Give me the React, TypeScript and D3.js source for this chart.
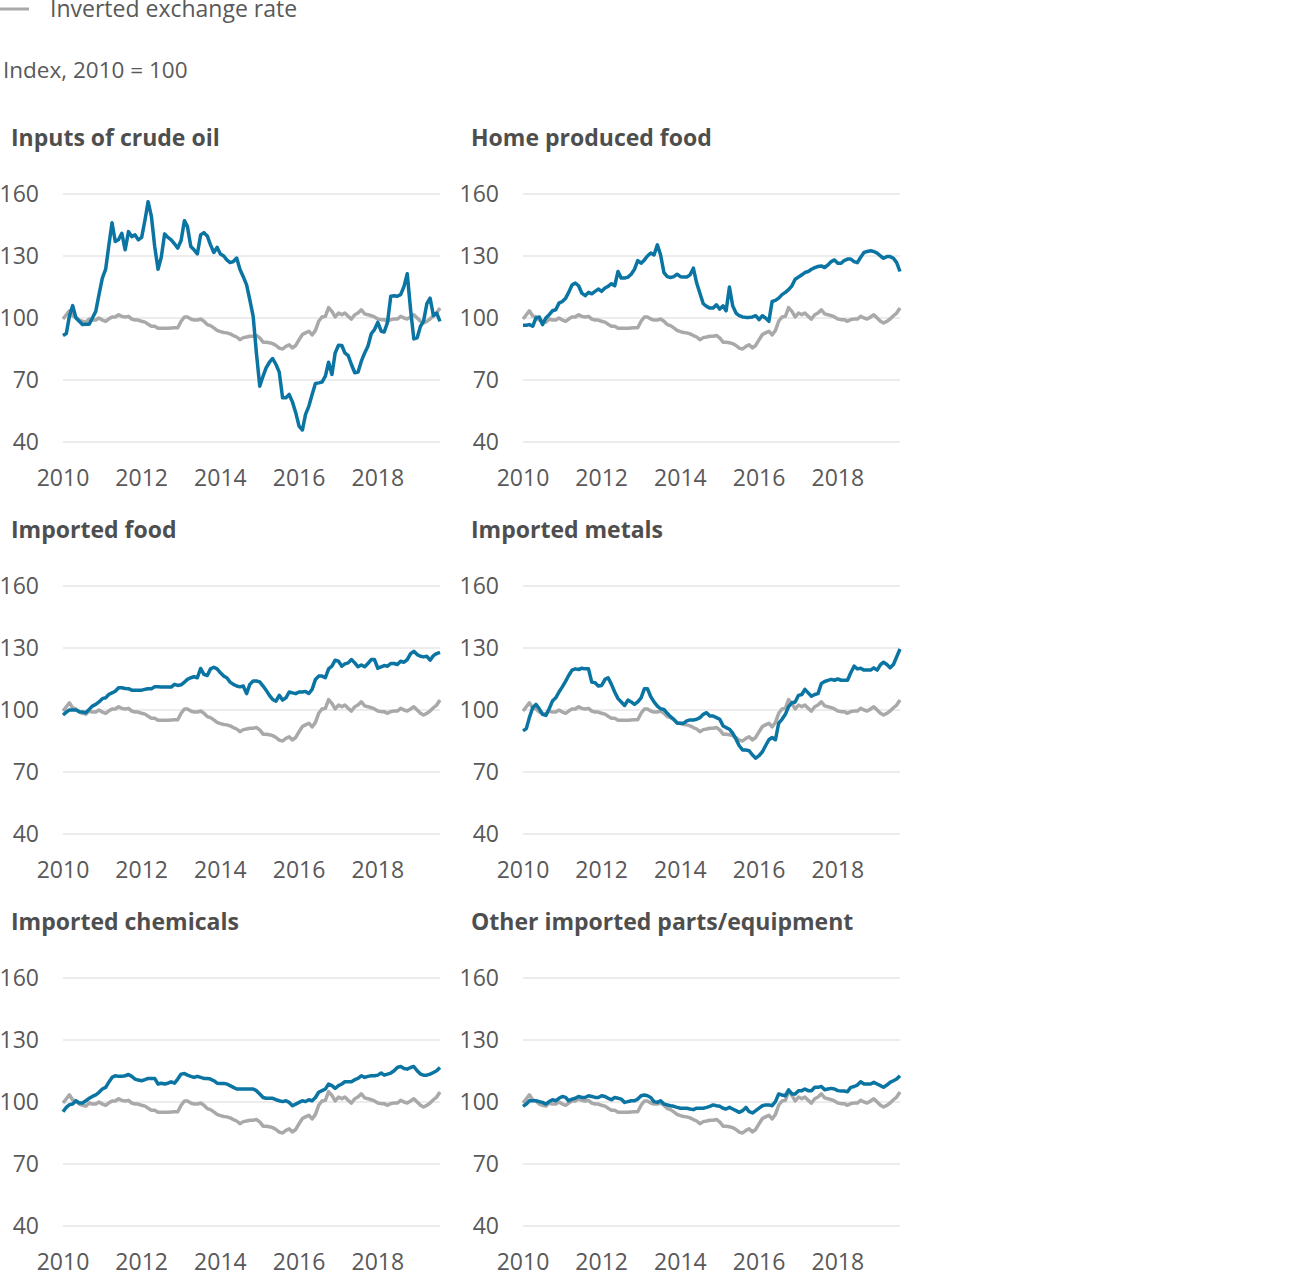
import React from "react";
import * as d3 from "d3";

// Monthly, Jan 2010 – Aug 2019
const startYear = 2010;
const yearTicks = [2010, 2012, 2014, 2016, 2018];
const yTicks = [40, 70, 100, 130, 160];

const exchangeRate = [
  99.5, 101.6, 103.5, 101, 100.5, 99, 98.4, 98, 99.5, 99, 99, 100,
  99, 98.4, 99.5, 100.5, 100.5, 101.6, 100.8, 100.5, 100.8, 99.5, 99, 99,
  98.4, 98, 97, 96, 96, 95, 95, 95, 95, 95.2, 95.3, 95.3,
  98.4, 100.5, 100.5, 99.5, 99, 99, 99.5, 98.4, 96.8, 96.3, 95.2, 94,
  93.4, 93, 92.8, 92.3, 91.5, 90.8, 89.5, 90.5, 90.8, 91.2, 91.2, 91.5,
  90.4, 88.3, 88.3, 88, 87.6, 86.7, 85.4, 85, 86.3, 87, 85.5, 86.7,
  89.5, 92, 92.8, 93.6, 91.8, 94, 98.4, 100.5, 100.8, 105, 103.2, 100.5,
  102.4, 101.6, 102.4, 100.8, 99.5, 101.6, 102.4, 104, 102, 101.6, 101.1, 100.5,
  99.5, 99.2, 99.2, 98.4, 99.2, 99.5, 99.5, 100.8, 100, 99.5, 100.5, 101.6,
  100, 98.4, 97.6, 98.4, 99.5, 101.1, 102.4, 104.8,
];

const crudeOil = [
  91.5, 92.5, 100.8, 106, 100, 98.4, 96.8, 97, 97, 100, 103.2, 111.3,
  119.3, 123.6, 134.6, 146.1, 137, 138, 141, 133, 141.8, 139.4, 140.2, 137.8,
  139, 147.4, 156.3, 149, 134.6, 123.6, 129.4, 140.7, 139, 137.8, 135.9, 133.8,
  137.5, 147.1, 144.2, 134.6, 133, 131, 140.2, 141.3, 139.7, 135.4, 131.7, 134.2,
  131, 130, 128.1, 126.8, 127.3, 129, 123.6, 120, 116, 108.8, 100.8, 83.1,
  67, 71.9, 75.9, 78.6, 80.4, 77.5, 73.8, 61.4, 61.4, 63, 59.3, 54.2,
  47.7, 45.8, 53.4, 57.4, 63, 68.3, 68.6, 69, 71.9, 78.6, 72.7, 83.1,
  86.8, 86.7, 83.1, 81.8, 77.5, 73.5, 73.8, 79.1, 83.1, 86.3, 92.4, 94.4,
  97.9, 93.6, 93.2, 97.9, 110.5, 110.8, 110.5, 111.3, 115.3, 121.4, 104, 89.9,
  90.4, 96, 98.4, 106.9, 109.6, 101.1, 102.4, 98.4,
];

const homeFood = [
  96.5, 96.5, 96.8, 96, 100, 100.5, 96.8, 100, 101.6, 103.5, 104, 107.2,
  108, 109.6, 112.4, 116, 116.9, 115.6, 112, 110.8, 112.4, 111.7, 112.9, 114,
  112.9, 114.5, 115.3, 116.6, 115.6, 122.5, 119.3, 119.3, 119.8, 121.2, 123.6, 127.8,
  126.5, 128.1, 130, 131.4, 130.5, 135.4, 130.5, 122, 120, 119.6, 120, 121.2,
  120, 119.8, 119.8, 120.9, 124.1, 116.9, 112, 106.9, 105.6, 104.8, 104.8, 106.4,
  104.3, 105.9, 103.5, 115, 105.9, 102.4, 101.1, 100.5, 100.3, 100.3, 100.5, 101.1,
  99.2, 101.1, 100, 98.4, 108, 108.5, 109.6, 111.3, 112.4, 113.7, 115.6, 118.8,
  119.8, 120.9, 122, 122.5, 123.6, 124.4, 124.9, 125.2, 124.4, 125.7, 127.3, 128.1,
  126.5, 126.5, 127.8, 128.5, 128.5, 127.3, 126.8, 129.4, 131.7, 132.2, 132.5, 132.2,
  131.4, 130, 128.9, 129.7, 129.7, 128.9, 126.8, 122.5,
];

const importedFood = [
  97.6, 99, 100, 100, 100, 99.2, 99, 98.7, 100.3, 101.9, 102.7, 103.9,
  105.5, 105.9, 107.5, 108.3, 109.1, 110.8, 110.8, 110.4, 110.3, 109.6, 109.6, 109.6,
  109.6, 110, 110.3, 110.3, 111.2, 111.2, 111.1, 111.1, 111.1, 111.1, 112.4, 111.9,
  112.2, 113.5, 114.8, 115.6, 116.1, 115.6, 120.1, 117.2, 116.7, 119.9, 120.7, 119.9,
  118, 116.4, 115.6, 113.5, 112.4, 111.6, 111.2, 111.6, 107.9, 112.4, 114, 114,
  113.6, 111.6, 109.6, 107.1, 105.1, 104.3, 107.1, 104.8, 105.9, 108.7, 108.3, 107.9,
  108.7, 108.7, 109, 108, 110, 114.8, 116.4, 116.4, 115.6, 119.9, 121.2, 124.1,
  123.6, 121.2, 122.3, 122.8, 124.4, 122.8, 120.9, 121.8, 120.9, 122.5, 124.4, 124.4,
  120.2, 120.9, 121.5, 121.2, 122.5, 122.5, 122, 123.6, 123.1, 124.4, 127.3, 128.4,
  126.8, 126, 125.7, 126, 124.1, 126.3, 127.3, 127.9,
];

const importedMetals = [
  89.9, 91, 96.3, 101.1, 102.7, 100.6, 97.9, 97.4, 100.6, 104.3, 105.9, 108.7,
  111.2, 114, 116.7, 119.3, 119.9, 119.6, 120.2, 119.9, 119.9, 113.5, 113.2, 111.6,
  111.9, 114.8, 115.6, 112.4, 108.7, 105.5, 103.9, 102.2, 104.8, 103.9, 102.7, 103.9,
  105.9, 110.3, 110.3, 106.4, 103.9, 101.9, 100.6, 100.3, 98.4, 96.8, 95.5, 93.6,
  93.6, 93.6, 94.7, 95.2, 95.2, 95.5, 96.3, 97.9, 98.7, 97.1, 97.1, 96.3,
  95.5, 92.3, 91.5, 90.7, 88.8, 85.9, 82.7, 80.7, 80.6, 80.3, 78.2, 76.7,
  77.9, 79.8, 82.7, 85.6, 86.7, 85.6, 93.6, 95.5, 97.9, 101.6, 103.5, 103.9,
  107.1, 107.5, 110, 108.3, 106.7, 107.5, 107.9, 112.8, 113.8, 114.3, 114.8, 114.4,
  115, 114.4, 114.4, 114.4, 118, 121.2, 119.9, 120.2, 119.3, 119.3, 119.3, 120.4,
  119.3, 122, 123.1, 122, 120.4, 122, 125.7, 129.5,
];

const importedChemicals = [
  95.3, 97.4, 98.7, 99, 100.6, 99.5, 99.5, 100.6, 101.8, 102.7, 103.4, 104.7,
  106.3, 107.1, 109.5, 111.9, 112.7, 112.4, 112.4, 112.7, 113.3, 112.4, 111.1, 110.6,
  110.3, 110.8, 111.4, 111.4, 111.4, 108.7, 109.1, 108.7, 109.1, 109.8, 109.1, 111.1,
  113.5, 113.8, 113, 112.4, 111.9, 112.4, 111.9, 111.4, 111.4, 111.1, 110.3, 109.1,
  109, 109, 108.7, 107.9, 107.1, 106.3, 106.3, 106.3, 106.3, 106.3, 106.3, 105.5,
  103.9, 102.2, 101.8, 101.8, 101.8, 101.1, 100.6, 100.2, 100.6, 99.8, 98.2, 99,
  99.8, 100.6, 100.2, 101.1, 100.6, 102.2, 104.7, 105.5, 106.3, 108.7, 107.9, 106.6,
  107.9, 108.7, 109.8, 109.8, 109.8, 110.8, 111.4, 112.7, 111.9, 112.4, 112.7, 112.7,
  113, 114, 113, 113.5, 114, 115.1, 116.7, 117.2, 116.2, 115.9, 116.7, 117.2,
  115.1, 113.5, 113, 113, 113.5, 114.3, 115.1, 116.7,
];

const otherParts = [
  97.9, 99, 100.6, 100.6, 100.6, 100.2, 99.8, 99, 100.2, 101.1, 100.6, 101.8,
  102.7, 102.2, 100.6, 101.4, 101.8, 102.7, 102.2, 102.2, 103, 102.7, 102.2, 102.2,
  103, 102.7, 101.8, 101.1, 102.2, 101.8, 101.4, 99.8, 100.2, 100.6, 100.6, 101.4,
  103, 103.4, 103, 102.2, 100.2, 99.8, 100.6, 99, 98.6, 98.2, 97.9, 97.4,
  97, 97, 97, 96.6, 96.3, 97, 97, 97, 97.4, 97.9, 98.6, 98.2,
  97.9, 97, 96.6, 97.4, 96.6, 95.8, 95, 95.8, 97.4, 95.3, 94.7, 95.8,
  97, 98.2, 98.6, 98.6, 98.2, 100.2, 103.9, 103.4, 103, 105.9, 103.9, 103.9,
  105.5, 105.5, 106.3, 105.5, 105.5, 107.1, 107.1, 107.5, 105.9, 106.3, 106.6, 106.3,
  105.5, 105.3, 105.3, 105, 107.1, 107.5, 108.2, 109.8, 108.7, 108.7, 108.7, 109.5,
  108.7, 107.9, 107.1, 108.2, 109.5, 110.3, 111.1, 112.7,
];

const panelTitles = [
  "Inputs of crude oil",
  "Home produced food",
  "Imported food",
  "Imported metals",
  "Imported chemicals",
  "Other imported parts/equipment",
];
const panelSeries = [crudeOil, homeFood, importedFood, importedMetals, importedChemicals, otherParts];

const legendLabel = "Inverted exchange rate";
const subtitle = "Index, 2010 = 100";

const BLUE = "#0a74a2";
const GREY = "#a9a9a9";
const FONT = "'Open Sans', 'Noto Sans', sans-serif";

const colX = [63, 523];
const rowTop = [194, 586, 978];
const plotW = 377;
const plotH = 248;

function dateOf(i: number) {
  return new Date(startYear, i, 1);
}

function Panel({ title, values, x0, y0 }: { title: string; values: number[]; x0: number; y0: number }) {
  const n = values.length;
  const x = d3
    .scaleTime()
    .domain([new Date(startYear, 0, 1), dateOf(n - 1)])
    .range([x0, x0 + plotW]);
  const y = d3.scaleLinear().domain([40, 160]).range([y0 + plotH, y0]);
  const line = d3
    .line<number>()
    .x((_, i) => x(dateOf(i)))
    .y((d) => y(d))
    .curve(d3.curveLinear);
  return (
    <g>
      <text x={x0 - 52} y={y0 - 48} fontFamily={FONT} fontWeight={700} fontSize={23} fill="#4e4e4e">
        {title}
      </text>
      {yTicks.map((t) => (
        <g key={t}>
          <line x1={x0} x2={x0 + plotW} y1={y(t)} y2={y(t)} stroke="#d9d9d9" strokeWidth={1} />
          <text x={x0 - 24} y={y(t)} dy="0.35em" textAnchor="end" fontFamily={FONT} fontSize={23} fill="#595959">
            {t}
          </text>
        </g>
      ))}
      {yearTicks.map((yr) => (
        <text
          key={yr}
          x={x(new Date(yr, 0, 1))}
          y={y0 + plotH + 44}
          textAnchor="middle"
          fontFamily={FONT}
          fontSize={23}
          fill="#595959"
        >
          {yr}
        </text>
      ))}
      <path d={line(exchangeRate) || ""} fill="none" stroke={GREY} strokeWidth={3.5} strokeLinejoin="round" />
      <path d={line(values) || ""} fill="none" stroke={BLUE} strokeWidth={3.5} strokeLinejoin="round" />
    </g>
  );
}

export default function App() {
  return (
    <svg
      width={1313}
      height={1279}
      style={{ position: "absolute", left: 0, top: 0, display: "block", background: "#fff" }}
    >
      <line x1={0} x2={29} y1={9} y2={9} stroke={GREY} strokeWidth={3} />
      <text x={50} y={17} fontFamily={FONT} fontSize={23} fill="#595959">
        {legendLabel}
      </text>
      <text x={3} y={78} fontFamily={FONT} fontSize={22.5} fill="#595959">
        {subtitle}
      </text>
      {panelTitles.map((t, i) => (
        <Panel
          key={t}
          title={t}
          values={panelSeries[i]}
          x0={colX[i % 2]}
          y0={rowTop[Math.floor(i / 2)]}
        />
      ))}
    </svg>
  );
}
